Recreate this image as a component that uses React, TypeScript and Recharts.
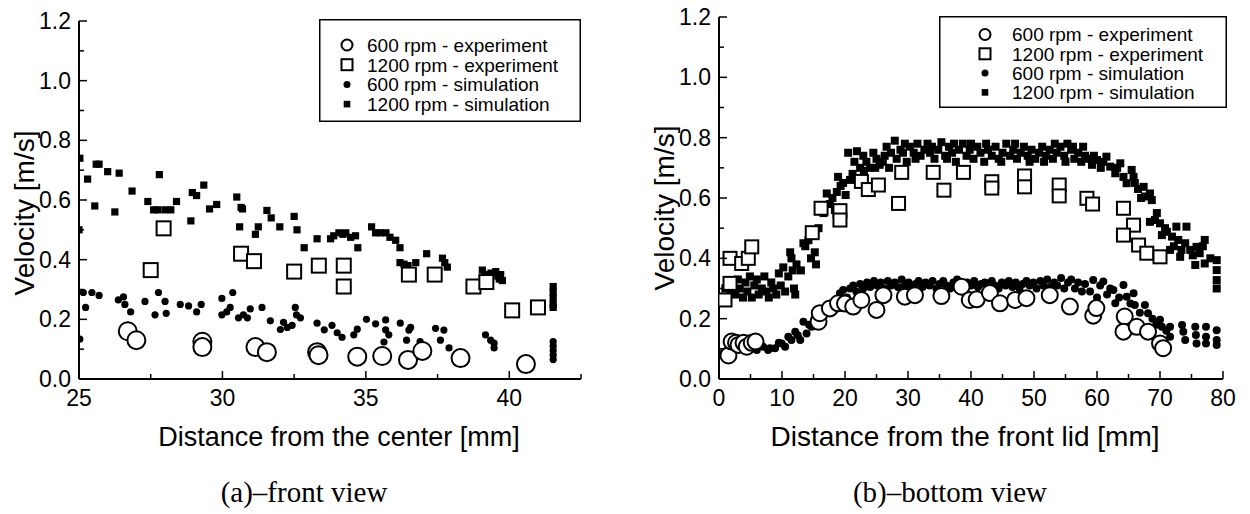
import React from 'react';
import { ScatterChart, Scatter, XAxis, YAxis, Legend, Label } from 'recharts';

type Pair = [number, number];

// (a) front view: distance from the center [mm] -> velocity [m/s]
const frontExp600: Pair[] = [
  [26.7, 0.16], [27.0, 0.13], [29.3, 0.125], [29.3, 0.107], [31.15, 0.107], [31.55, 0.09],
  [33.3, 0.09], [33.35, 0.08], [34.7, 0.075], [35.57, 0.077], [36.47, 0.064], [36.97, 0.094],
  [38.3, 0.07], [40.58, 0.05],
];
const frontExp1200: Pair[] = [
  [27.5, 0.365], [27.95, 0.505], [30.65, 0.42], [31.1, 0.395], [32.5, 0.36], [33.36, 0.38],
  [34.23, 0.38], [34.23, 0.31], [36.5, 0.35], [37.4, 0.35], [38.75, 0.31], [39.2, 0.325],
  [40.1, 0.23], [41.0, 0.24],
];
const frontSim600: Pair[] = [
  [25.03, 0.134], [25.15, 0.29], [25.23, 0.24], [25.45, 0.29], [25.7, 0.28], [26.37, 0.265],
  [26.55, 0.275], [26.6, 0.25], [26.8, 0.225], [27.3, 0.26], [27.65, 0.215], [27.77, 0.29],
  [28.0, 0.26], [28.04, 0.22], [28.53, 0.25], [28.82, 0.245], [29.1, 0.225], [29.26, 0.25],
  [29.98, 0.27], [29.98, 0.215], [30.15, 0.225], [30.27, 0.24], [30.36, 0.29], [30.56, 0.205],
  [30.73, 0.215], [30.87, 0.205], [30.97, 0.235], [31.38, 0.24], [31.67, 0.195], [32.02, 0.166],
  [32.13, 0.19], [32.26, 0.173], [32.43, 0.18], [32.54, 0.24], [32.58, 0.215], [32.72, 0.205],
  [33.3, 0.187], [33.55, 0.165], [33.82, 0.18], [34.0, 0.155], [34.17, 0.14], [34.58, 0.148],
  [34.7, 0.167], [35.02, 0.2], [35.34, 0.185], [35.63, 0.124], [35.69, 0.198], [35.69, 0.165],
  [35.8, 0.148], [36.2, 0.187], [36.42, 0.13], [36.5, 0.164], [36.56, 0.173], [36.89, 0.125],
  [37.43, 0.17], [37.6, 0.13], [37.72, 0.164], [37.9, 0.104], [39.17, 0.148], [39.35, 0.13],
  [39.47, 0.12], [39.47, 0.104], [41.53, 0.125], [41.53, 0.11], [41.53, 0.095], [41.53, 0.08],
  [41.53, 0.065],
];
const frontSim1200: Pair[] = [
  [25.0, 0.5], [25.03, 0.74], [25.3, 0.67], [25.55, 0.58], [25.6, 0.72], [25.7, 0.72],
  [26.0, 0.695], [26.25, 0.56], [26.4, 0.69], [26.85, 0.63], [27.4, 0.595], [27.6, 0.567],
  [27.75, 0.567], [27.8, 0.685], [28.0, 0.567], [28.2, 0.567], [28.4, 0.595], [28.9, 0.53],
  [28.95, 0.625], [29.1, 0.615], [29.35, 0.65], [29.55, 0.57], [29.8, 0.585], [30.5, 0.61],
  [30.6, 0.51], [30.65, 0.575], [30.7, 0.57], [31.15, 0.485], [31.25, 0.51], [31.55, 0.565],
  [31.7, 0.54], [32.0, 0.51], [32.5, 0.545], [32.6, 0.5], [32.85, 0.44], [33.3, 0.47],
  [33.77, 0.47], [33.88, 0.48], [34.06, 0.49], [34.2, 0.485], [34.3, 0.49], [34.47, 0.475],
  [34.64, 0.48], [34.72, 0.44], [35.2, 0.51], [35.34, 0.49], [35.5, 0.49], [35.7, 0.49],
  [35.84, 0.475], [36.04, 0.465], [36.19, 0.44], [36.19, 0.39], [36.33, 0.385], [36.47, 0.38],
  [36.74, 0.39], [37.12, 0.42], [37.67, 0.405], [37.75, 0.39], [37.84, 0.375], [39.06, 0.365],
  [39.15, 0.35], [39.36, 0.355], [39.53, 0.36], [39.6, 0.345], [39.65, 0.335], [39.7, 0.35],
  [39.76, 0.33], [41.53, 0.31], [41.53, 0.29], [41.53, 0.27], [41.53, 0.25], [41.53, 0.24],
];

// (b) bottom view: distance from the front lid [mm] -> velocity [m/s]
const bottomExp600: Pair[] = [
  [1.5, 0.078], [2.0, 0.124], [2.7, 0.12], [3.1, 0.113], [3.9, 0.12], [4.4, 0.107], [5.2, 0.12],
  [5.8, 0.124], [15.8, 0.19], [16.0, 0.218], [17.6, 0.234], [18.9, 0.251], [20.0, 0.25],
  [21.3, 0.24], [22.6, 0.262], [25.0, 0.229], [26.1, 0.278], [29.5, 0.273], [31.1, 0.278],
  [35.3, 0.275], [38.5, 0.306], [39.8, 0.262], [40.9, 0.264], [43.0, 0.285], [44.6, 0.251],
  [47.0, 0.262], [48.8, 0.268], [52.5, 0.278], [55.7, 0.24], [59.4, 0.21], [59.9, 0.235],
  [64.4, 0.207], [64.2, 0.157], [66.3, 0.173], [68.1, 0.157], [70.0, 0.118], [70.5, 0.102],
];
const bottomExp1200: Pair[] = [
  [0.95, 0.262], [1.75, 0.317], [1.75, 0.4], [3.6, 0.383], [4.65, 0.4], [5.2, 0.438],
  [14.8, 0.485], [16.2, 0.566], [19.2, 0.558], [19.2, 0.527], [22.6, 0.655], [23.7, 0.628],
  [25.3, 0.643], [28.5, 0.582], [29.0, 0.685], [34.0, 0.685], [35.7, 0.626], [38.8, 0.685],
  [43.3, 0.654], [43.3, 0.633], [48.5, 0.673], [48.5, 0.637], [54.0, 0.643], [54.0, 0.607],
  [58.4, 0.599], [59.3, 0.58], [64.2, 0.566], [65.8, 0.51], [64.2, 0.477], [66.6, 0.444],
  [67.9, 0.417], [70.0, 0.405],
];
const bottomSim600: Pair[] = [
  [0.8, 0.09], [1.5, 0.1], [2.3, 0.11], [3.2, 0.1], [4.0, 0.12], [4.8, 0.1], [5.5, 0.11],
  [6.0, 0.096], [6.5, 0.11], [7.0, 0.107], [7.8, 0.096], [8.1, 0.102], [8.9, 0.102], [9.5, 0.12],
  [9.95, 0.118], [10.5, 0.107], [11.0, 0.14], [11.5, 0.129], [12.1, 0.157], [12.5, 0.145],
  [12.9, 0.129], [13.4, 0.19], [13.9, 0.151], [14.3, 0.18], [14.7, 0.173], [15.2, 0.201],
  [15.8, 0.2], [16.3, 0.22], [16.8, 0.218], [17.4, 0.24], [17.9, 0.251], [18.5, 0.26],
  [19.2, 0.284], [19.7, 0.295], [20.3, 0.27], [20.8, 0.3], [21.3, 0.31], [21.8, 0.29],
  [22.4, 0.315], [22.9, 0.3], [23.5, 0.32], [24.0, 0.305], [24.6, 0.325], [25.1, 0.31],
  [25.7, 0.32], [26.2, 0.3], [26.8, 0.325], [27.3, 0.31], [27.9, 0.32], [28.4, 0.305],
  [29.0, 0.33], [29.5, 0.31], [30.1, 0.32], [30.6, 0.3], [31.2, 0.315], [31.7, 0.325],
  [32.3, 0.305], [32.8, 0.32], [33.4, 0.31], [33.9, 0.325], [34.5, 0.3], [35.0, 0.315],
  [35.6, 0.325], [36.1, 0.31], [36.7, 0.3], [37.2, 0.32], [37.8, 0.33], [38.3, 0.31],
  [38.9, 0.3], [39.4, 0.32], [40.0, 0.31], [40.5, 0.325], [41.1, 0.305], [41.6, 0.315],
  [42.2, 0.32], [42.7, 0.3], [43.3, 0.325], [43.8, 0.31], [44.4, 0.3], [44.9, 0.32],
  [45.5, 0.31], [46.0, 0.325], [46.6, 0.305], [47.1, 0.32], [47.7, 0.3], [48.2, 0.315],
  [48.8, 0.325], [49.3, 0.31], [49.9, 0.32], [50.4, 0.3], [51.0, 0.325], [51.5, 0.31],
  [52.1, 0.33], [52.6, 0.305], [53.2, 0.32], [53.7, 0.31], [54.3, 0.335], [54.8, 0.3],
  [55.4, 0.32], [55.9, 0.33], [56.5, 0.3], [57.0, 0.32], [57.6, 0.29], [58.1, 0.315],
  [58.9, 0.29], [59.4, 0.328], [60.0, 0.27], [60.5, 0.31], [61.0, 0.323], [61.6, 0.28],
  [62.1, 0.3], [62.6, 0.295], [62.9, 0.251], [63.5, 0.27], [64.2, 0.312], [64.7, 0.273],
  [65.3, 0.25], [65.8, 0.284], [66.0, 0.245], [66.8, 0.22], [67.6, 0.245], [68.1, 0.218],
  [68.8, 0.2], [69.4, 0.18], [70.0, 0.196], [70.3, 0.173], [71.0, 0.16], [71.6, 0.173],
  [71.6, 0.14], [73.5, 0.179], [73.7, 0.157], [74.0, 0.129], [75.6, 0.173], [75.7, 0.146],
  [75.8, 0.118], [77.3, 0.173], [77.3, 0.14], [77.3, 0.118], [79.0, 0.162], [79.0, 0.129],
  [79.0, 0.113],
];
const bottomSim1200: Pair[] = [
  [0.9, 0.27], [1.0, 0.3], [1.4, 0.32], [1.8, 0.29], [2.2, 0.31], [2.6, 0.28], [3.0, 0.33],
  [3.3, 0.3], [3.8, 0.27], [4.2, 0.32], [4.5, 0.29], [4.9, 0.34], [5.2, 0.27], [5.6, 0.31],
  [6.0, 0.33], [6.3, 0.28], [6.8, 0.3], [7.2, 0.34], [7.5, 0.29], [7.9, 0.27], [8.3, 0.32],
  [8.6, 0.3], [9.1, 0.28], [9.5, 0.35], [9.8, 0.31], [10.2, 0.37], [10.5, 0.29], [11.0, 0.34],
  [11.3, 0.42], [11.5, 0.4], [11.7, 0.36], [11.9, 0.3], [12.1, 0.28], [12.3, 0.38], [13.0, 0.36],
  [13.4, 0.45], [13.7, 0.44], [14.2, 0.46], [14.6, 0.4], [15.2, 0.42], [15.4, 0.38], [15.8, 0.5],
  [16.6, 0.55], [17.1, 0.615], [17.6, 0.58], [18.0, 0.6], [18.4, 0.56], [18.7, 0.62],
  [18.9, 0.67], [19.3, 0.64], [19.7, 0.65], [20.1, 0.61], [20.5, 0.75], [20.8, 0.66],
  [21.2, 0.68], [21.5, 0.72], [21.9, 0.755], [22.4, 0.7], [22.9, 0.74], [23.0, 0.69],
  [23.4, 0.72], [24.0, 0.7], [24.5, 0.75], [24.8, 0.7], [25.0, 0.73], [25.5, 0.71], [26.0, 0.72],
  [26.3, 0.74], [26.6, 0.77], [27.0, 0.7], [27.3, 0.75], [27.9, 0.79], [28.2, 0.73], [28.8, 0.76],
  [29.2, 0.75], [29.5, 0.78], [29.8, 0.72], [30.3, 0.77], [30.9, 0.75], [31.2, 0.73],
  [31.5, 0.78], [32.0, 0.74], [32.6, 0.76], [33.1, 0.78], [33.5, 0.75], [33.8, 0.77],
  [34.2, 0.73], [34.8, 0.76], [35.3, 0.785], [35.9, 0.74], [36.2, 0.73], [36.5, 0.77],
  [37.0, 0.75], [37.3, 0.78], [37.6, 0.72], [38.1, 0.76], [38.7, 0.78], [39.3, 0.74],
  [39.8, 0.76], [40.0, 0.78], [40.4, 0.73], [41.0, 0.77], [41.5, 0.75], [42.1, 0.72],
  [42.4, 0.78], [42.7, 0.76], [43.3, 0.74], [43.9, 0.77], [44.4, 0.73], [44.8, 0.72],
  [45.0, 0.75], [45.6, 0.78], [46.2, 0.74], [46.7, 0.76], [47.0, 0.78], [47.3, 0.73],
  [47.9, 0.75], [48.4, 0.77], [49.0, 0.74], [49.3, 0.72], [49.6, 0.76], [50.2, 0.73],
  [50.8, 0.75], [51.3, 0.77], [51.6, 0.72], [51.9, 0.74], [52.5, 0.76], [53.0, 0.73],
  [53.3, 0.78], [53.6, 0.75], [54.2, 0.77], [54.8, 0.74], [55.0, 0.72], [55.3, 0.78],
  [55.9, 0.76], [56.2, 0.77], [56.4, 0.73], [57.0, 0.75], [57.5, 0.72], [57.8, 0.77],
  [58.1, 0.74], [58.7, 0.73], [59.2, 0.71], [59.5, 0.74], [60.0, 0.726], [60.6, 0.7],
  [61.0, 0.72], [61.5, 0.737], [62.1, 0.704], [62.9, 0.682], [63.2, 0.7], [63.7, 0.715],
  [64.2, 0.67], [64.7, 0.649], [65.5, 0.693], [65.8, 0.67], [66.0, 0.65], [66.5, 0.63],
  [67.0, 0.6], [67.4, 0.637], [67.6, 0.605], [68.4, 0.615], [68.7, 0.593], [68.4, 0.521],
  [69.2, 0.527], [69.5, 0.55], [70.0, 0.516], [70.3, 0.477], [70.8, 0.5], [71.1, 0.488],
  [71.6, 0.428], [71.9, 0.472], [72.2, 0.44], [72.6, 0.505], [72.9, 0.461], [73.2, 0.405],
  [73.4, 0.428], [74.0, 0.45], [74.2, 0.505], [74.8, 0.428], [75.2, 0.41], [75.6, 0.378],
  [75.8, 0.438], [76.3, 0.417], [76.8, 0.44], [77.1, 0.461], [77.1, 0.383], [78.0, 0.4],
  [79.0, 0.394], [79.0, 0.361], [79.0, 0.328], [79.0, 0.3],
];

const frontXTicks = [25, 30, 35, 40];
const frontXMinor = [27.5, 32.5, 37.5, 42.5];
const bottomXTicks = [0, 10, 20, 30, 40, 50, 60, 70, 80];
const bottomXMinor = [5, 15, 25, 35, 45, 55, 65, 75];
const yTicks = [0, 0.2, 0.4, 0.6, 0.8, 1.0, 1.2];
const yMinor = [0.1, 0.3, 0.5, 0.7, 0.9, 1.1];

const seriesNames = [
  '600 rpm - experiment',
  '1200 rpm - experiment',
  '600 rpm - simulation',
  '1200 rpm - simulation',
];

const FONT = '"Liberation Sans", Arial, Helvetica, sans-serif';
const INK = '#000';

const toPoints = (arr: Pair[]) => arr.map(([x, v]) => ({ x, v }));

// marker shapes
const openCircle = (r: number) => (p: any) =>
  <circle cx={p.cx} cy={p.cy} r={r} fill="#fff" stroke={INK} strokeWidth={2} />;
const openSquare = (s: number) => (p: any) =>
  <rect x={p.cx - s / 2} y={p.cy - s / 2} width={s} height={s} fill="#fff" stroke={INK} strokeWidth={2} />;
const dot = (r: number) => (p: any) => <circle cx={p.cx} cy={p.cy} r={r} fill={INK} />;
const block = (s: number) => (p: any) =>
  <rect x={p.cx - s / 2} y={p.cy - s / 2} width={s} height={s} fill={INK} />;

// inward Origin-style ticks, labels only on major ticks of bottom / left axes
const makeTick = (side: string, majors: number[], fmt?: (v: number) => string) => (props: any) => {
  const { x, y, payload } = props;
  const major = majors.includes(payload.value);
  const len = major ? 8 : 5;
  let line = null;
  let label = null;
  if (side === 'bottom') {
    line = <line x1={x} y1={y} x2={x} y2={y - len} stroke={INK} strokeWidth={1.5} />;
    if (major && fmt) label = <text x={x} y={y + 27} textAnchor="middle" fontSize={23} fontFamily={FONT} fill={INK}>{fmt(payload.value)}</text>;
  } else if (side === 'top') {
    line = <line x1={x} y1={y} x2={x} y2={y + len} stroke={INK} strokeWidth={1.5} />;
  } else if (side === 'left') {
    line = <line x1={x} y1={y} x2={x + len} y2={y} stroke={INK} strokeWidth={1.5} />;
    if (major && fmt) label = <text x={x - 8} y={y + 8} textAnchor="end" fontSize={23} fontFamily={FONT} fill={INK}>{fmt(payload.value)}</text>;
  } else {
    line = <line x1={x} y1={y} x2={x - len} y2={y} stroke={INK} strokeWidth={1.5} />;
  }
  return <g>{line}{label}</g>;
};

type Box = { left: number; top: number; width: number; height: number; firstRow: number; gap: number; symX: number; textX: number };

const LegendBox = ({ box }: { box: Box }) => (
  <svg width={box.width} height={box.height} style={{ display: 'block' }}>
    <rect x={0.75} y={0.75} width={box.width - 1.5} height={box.height - 1.5} fill="#fff" stroke={INK} strokeWidth={1.5} />
    {seriesNames.map((name, i) => {
      const cy = box.firstRow + i * box.gap;
      const sx = box.symX;
      return (
        <g key={name}>
          {i === 0 && <circle cx={sx} cy={cy} r={5.5} fill="none" stroke={INK} strokeWidth={2} />}
          {i === 1 && <rect x={sx - 5.5} y={cy - 5.5} width={11} height={11} fill="none" stroke={INK} strokeWidth={2} />}
          {i === 2 && <circle cx={sx} cy={cy} r={3.5} fill={INK} />}
          {i === 3 && <rect x={sx - 3.3} y={cy - 3.3} width={6.6} height={6.6} fill={INK} />}
          <text x={box.textX} y={cy + 6.8} fontSize={19} fontFamily={FONT} fill={INK}>{name}</text>
        </g>
      );
    })}
  </svg>
);

type PanelProps = {
  left: number;
  plotTop: number;
  rightMargin: number;
  xDomain: [number, number];
  xTicks: number[];
  xMinor: number[];
  xTitle: string;
  xTitleX: number;
  xTitleSize: number;
  yTitleY: number;
  exp600: Pair[];
  exp1200: Pair[];
  sim600: Pair[];
  sim1200: Pair[];
  box: Box;
  big: { circle: number; square: number; dot: number; block: number };
};

function Panel(p: PanelProps) {
  const W = 600;
  const H = 514;
  const xAll = [...p.xTicks, ...p.xMinor].sort((a, b) => a - b);
  const yAll = [...yTicks, ...yMinor].sort((a, b) => a - b);
  const axisLine = { stroke: INK, strokeWidth: 2 };
  return (
    <div style={{ position: 'absolute', left: p.left, top: 0 }}>
      <ScatterChart width={W} height={H} margin={{ top: p.plotTop, right: p.rightMargin, bottom: 94, left: 0 }}>
        <XAxis
          type="number" dataKey="x" domain={p.xDomain} allowDataOverflow ticks={xAll} interval={0}
          height={41} tickSize={0} tickMargin={0} tickLine={false} axisLine={axisLine}
          tick={makeTick('bottom', p.xTicks, (v) => String(v))}
        >
          <Label content={() => (
            <text x={p.xTitleX} y={446} textAnchor="middle" fontSize={p.xTitleSize} fontFamily={FONT} fill={INK}>{p.xTitle}</text>
          )} />
        </XAxis>
        <XAxis
          xAxisId="top" orientation="top" type="number" domain={p.xDomain} allowDataOverflow ticks={xAll}
          interval={0} height={0} tickSize={0} tickMargin={0} tickLine={false} axisLine={axisLine}
          tick={makeTick('top', p.xTicks)}
        />
        <YAxis
          type="number" dataKey="v" domain={[0, 1.2]} allowDataOverflow ticks={yAll} interval={0}
          width={79} tickSize={0} tickMargin={0} tickLine={false} axisLine={axisLine}
          tick={makeTick('left', yTicks, (v) => v.toFixed(1))}
        >
          <Label content={() => (
            <text x={34} y={p.yTitleY} transform={`rotate(-90 34 ${p.yTitleY})`} textAnchor="middle" fontSize={28} fontFamily={FONT} fill={INK}>
              Velocity [m/s]
            </text>
          )} />
        </YAxis>
        <YAxis
          yAxisId="right" orientation="right" type="number" domain={[0, 1.2]} allowDataOverflow ticks={yAll}
          interval={0} width={0} tickSize={0} tickMargin={0} tickLine={false} axisLine={axisLine}
          tick={makeTick('right', yTicks)}
        />
        <Scatter name={seriesNames[3]} data={toPoints(p.sim1200)} shape={block(p.big.block)} isAnimationActive={false} />
        <Scatter name={seriesNames[2]} data={toPoints(p.sim600)} shape={dot(p.big.dot)} isAnimationActive={false} />
        <Scatter name={seriesNames[1]} data={toPoints(p.exp1200)} shape={openSquare(p.big.square)} isAnimationActive={false} />
        <Scatter name={seriesNames[0]} data={toPoints(p.exp600)} shape={openCircle(p.big.circle)} isAnimationActive={false} />
        <Legend
          layout="vertical" align="center" verticalAlign="middle"
          wrapperStyle={{ left: p.box.left, top: p.box.top, width: p.box.width, height: p.box.height }}
          content={() => <LegendBox box={p.box} />}
        />
      </ScatterChart>
    </div>
  );
}

const captionStyle: React.CSSProperties = {
  position: 'absolute',
  top: 478,
  width: 300,
  textAlign: 'center',
  fontFamily: '"Liberation Serif", "Times New Roman", serif',
  fontSize: 29,
  lineHeight: '29px',
  color: INK,
};

export default function App() {
  return (
    <div style={{ position: 'absolute', left: 0, top: 0, width: 1250, height: 514, background: '#fff', overflow: 'hidden' }}>
      <Panel
        left={0}
        plotTop={21}
        rightMargin={19}
        xDomain={[25, 42.5]}
        xTicks={frontXTicks}
        xMinor={frontXMinor}
        xTitle="Distance from the center [mm]"
        xTitleX={339}
        xTitleSize={27}
        yTitleY={213}
        exp600={frontExp600}
        exp1200={frontExp1200}
        sim600={frontSim600}
        sim1200={frontSim1200}
        box={{ left: 319, top: 19, width: 262, height: 103, firstRow: 26, gap: 19.7, symX: 28, textX: 48 }}
        big={{ circle: 9, square: 14, dot: 3.6, block: 7.2 }}
      />
      <Panel
        left={640}
        plotTop={17}
        rightMargin={17}
        xDomain={[0, 80]}
        xTicks={bottomXTicks}
        xMinor={bottomXMinor}
        xTitle="Distance from the front lid [mm]"
        xTitleX={325}
        xTitleSize={28}
        yTitleY={208}
        exp600={bottomExp600}
        exp1200={bottomExp1200}
        sim600={bottomSim600}
        sim1200={bottomSim1200}
        box={{ left: 299, top: 16, width: 288, height: 92, firstRow: 18.5, gap: 19.3, symX: 46, textX: 73 }}
        big={{ circle: 8, square: 13, dot: 4, block: 8 }}
      />
      <div style={{ ...captionStyle, left: 304 - 150 }}>(a)–front view</div>
      <div style={{ ...captionStyle, left: 950 - 150 }}>(b)–bottom view</div>
    </div>
  );
}
